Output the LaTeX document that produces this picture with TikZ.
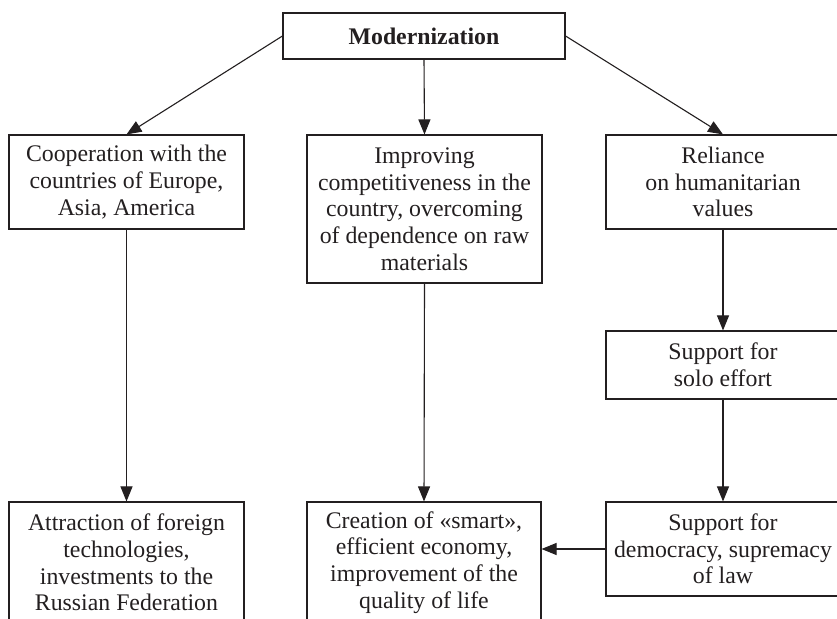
\documentclass[tikz,border=0pt]{standalone}
\usepackage{fontspec}
\setmainfont{Liberation Serif}
\usetikzlibrary{arrows.meta}
\definecolor{ink}{HTML}{231F20}
\tikzset{
  box/.style={draw=ink, line width=1.1pt, rectangle, inner sep=0pt, align=center,
    text=ink, font=\fontsize{23.8}{26.7}\selectfont},
  conn/.style={draw=ink, line width=1.1pt, -{Triangle[length=15pt,width=12pt]}}
}
\begin{document}
\begin{tikzpicture}[x=1pt,y=1pt]
\useasboundingbox (0,0) rectangle (837,618);
\clip (0,0) rectangle (837,618);
\fill[white] (0,0) rectangle (837,618);
% y = 618 - image y
\node[box, minimum width=282pt, minimum height=46pt] (mod) at (424,582) {\textbf{Modernization}};
\node[box, minimum width=235pt, minimum height=94pt] (coop) at (126.5,436) {Cooperation with the\\countries of Europe,\\Asia, America};
\node[box, minimum width=235pt, minimum height=148pt] (impr) at (424.5,409) {Improving\\competitiveness in the\\country, overcoming\\of dependence on raw\\materials};
\node[box, minimum width=234pt, minimum height=94pt] (reli) at (723,436) {Reliance\\on humanitarian\\values};
\node[box, minimum width=234pt, minimum height=68pt] (solo) at (723,253) {Support for\\solo effort};
\node[box, minimum width=235pt, minimum height=121pt] (attr) at (126.5,55.5) {Attraction of foreign\\technologies,\\investments to the\\Russian Federation};
\node[box, minimum width=234pt, minimum height=121pt] (creat) at (424,55.5) {Creation of «smart»,\\efficient economy,\\improvement of the\\quality of life};
\node[box, minimum width=234pt, minimum height=94pt] (demo) at (723,69) {Support for\\democracy, supremacy\\of law};
\draw[conn] (mod.west) -- (coop.north);
\draw[conn] (mod.south) -- (impr.north);
\draw[conn] (mod.east) -- (reli.north);
\draw[conn] (coop.south) -- (attr.north);
\draw[conn] (impr.south) -- (creat.north);
\draw[conn] (reli.south) -- (solo.north);
\draw[conn] (solo.south) -- (demo.north);
\draw[conn] (demo.west) -- (demo.west -| creat.east);
\end{tikzpicture}
\end{document}
